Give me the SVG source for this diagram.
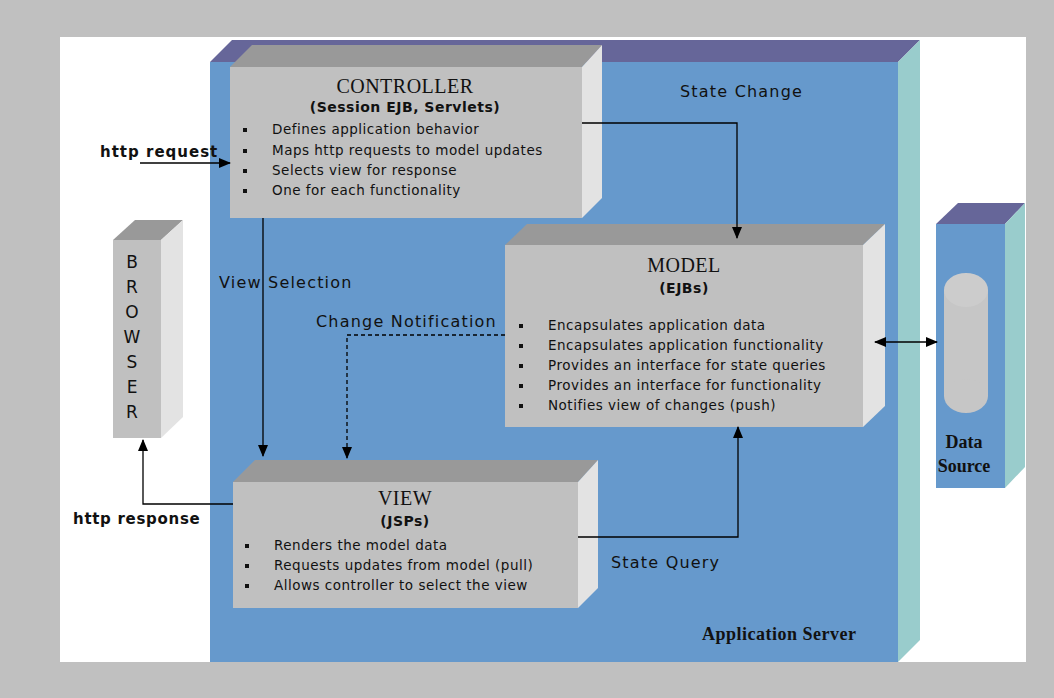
<svg xmlns="http://www.w3.org/2000/svg" width="1054" height="698" viewBox="0 0 1054 698">
<defs>
<style>
.front{fill:#c0c0c0}
.top{fill:#999999}
.side{fill:#e3e3e3}
.title{font-family:"Liberation Serif",serif;font-size:20px;letter-spacing:0.5px;fill:#111;text-anchor:middle}
.sub{font-family:"DejaVu Sans",sans-serif;font-weight:bold;font-size:14px;letter-spacing:0.5px;fill:#111;text-anchor:middle}
.item{font-family:"DejaVu Sans",sans-serif;font-size:13.5px;letter-spacing:0.5px;fill:#111}
.lbl{font-family:"DejaVu Sans",sans-serif;font-size:16px;letter-spacing:1.2px;fill:#111}
.blbl{font-family:"DejaVu Sans",sans-serif;font-weight:bold;font-size:15px;fill:#111}
.ser{font-family:"Liberation Serif",serif;font-weight:bold;font-size:18px;fill:#111}
.conn{fill:none;stroke:#000;stroke-width:1.3}
</style>
<marker id="ah" markerWidth="12" markerHeight="10" refX="11" refY="5" orient="auto" markerUnits="userSpaceOnUse">
<path d="M0,0 L12,5 L0,10 Z" fill="#000"/>
</marker>
<marker id="ahs" markerWidth="12" markerHeight="10" refX="1" refY="5" orient="auto" markerUnits="userSpaceOnUse">
<path d="M12,0 L0,5 L12,10 Z" fill="#000"/>
</marker>
</defs>
<rect x="0" y="0" width="1054" height="698" fill="#c0c0c0"/>
<rect x="60" y="37" width="966" height="625" fill="#ffffff"/>

<g id="appserver">
<polygon points="210,62 232,40 920,40 898,62" fill="#666699"/>
<polygon points="898,62 920,40 920,640 898,662" fill="#99cccc"/>
<rect x="210" y="62" width="688" height="600" fill="#6699cc"/>
<text class="ser" x="702" y="640" font-size="19" letter-spacing="0.5">Application Server</text>
</g>

<g id="datasource">
<polygon points="936,224 958,203 1025,203 1005,224" fill="#666699"/>
<polygon points="1005,224 1025,203 1025,467 1005,488" fill="#99cccc"/>
<rect x="936" y="224" width="69" height="264" fill="#6699cc"/>
<rect x="944" y="290" width="44" height="106" fill="#c6c6c6"/>
<ellipse cx="966" cy="396" rx="22" ry="17" fill="#c6c6c6"/>
<ellipse cx="966" cy="290" rx="22" ry="17" fill="#cccccc"/>
<text class="ser" x="964" y="448" text-anchor="middle">Data</text>
<text class="ser" x="964" y="472" text-anchor="middle">Source</text>
</g>

<g id="browser">
<polygon points="113,240 135,220 183,220 161,240" class="top"/>
<polygon points="161,240 183,220 183,417 161,438" class="side"/>
<rect x="113" y="240" width="48" height="198" class="front"/>
<g font-family="DejaVu Sans, sans-serif" font-size="17" fill="#111" text-anchor="middle">
<text x="132" y="268">B</text>
<text x="132" y="293">R</text>
<text x="132" y="318">O</text>
<text x="132" y="343">W</text>
<text x="132" y="368">S</text>
<text x="132" y="393">E</text>
<text x="132" y="418">R</text>
</g>
</g>

<g id="controller">
<polygon points="230,67 252,45 602,45 582,67" class="top"/>
<polygon points="582,67 602,45 602,198 582,218" class="side"/>
<rect x="230" y="67" width="352" height="151" class="front"/>
<text class="title" x="405" y="93">CONTROLLER</text>
<text class="sub" x="405" y="112">(Session EJB, Servlets)</text>
<g class="item">
<rect x="243" y="128" width="4" height="4"/><text x="272" y="134">Defines application behavior</text>
<rect x="243" y="149" width="4" height="4"/><text x="272" y="155">Maps http requests to model updates</text>
<rect x="243" y="169" width="4" height="4"/><text x="272" y="175">Selects view for response</text>
<rect x="243" y="189" width="4" height="4"/><text x="272" y="195">One for each functionality</text>
</g>
</g>

<g id="model">
<polygon points="505,245 527,224 885,224 863,245" class="top"/>
<polygon points="863,245 885,224 885,406 863,427" class="side"/>
<rect x="505" y="245" width="358" height="182" class="front"/>
<text class="title" x="684" y="272">MODEL</text>
<text class="sub" x="684" y="293">(EJBs)</text>
<g class="item">
<rect x="519" y="324" width="4" height="4"/><text x="548" y="330">Encapsulates application data</text>
<rect x="519" y="344" width="4" height="4"/><text x="548" y="350">Encapsulates application functionality</text>
<rect x="519" y="364" width="4" height="4"/><text x="548" y="370">Provides an interface for state queries</text>
<rect x="519" y="384" width="4" height="4"/><text x="548" y="390">Provides an interface for functionality</text>
<rect x="519" y="404" width="4" height="4"/><text x="548" y="410">Notifies view of changes (push)</text>
</g>
</g>

<g id="view">
<polygon points="233,482 255,460 598,460 578,482" class="top"/>
<polygon points="578,482 598,460 598,588 578,608" class="side"/>
<rect x="233" y="482" width="345" height="126" class="front"/>
<text class="title" x="405" y="505">VIEW</text>
<text class="sub" x="405" y="526">(JSPs)</text>
<g class="item">
<rect x="245" y="544" width="4" height="4"/><text x="274" y="550">Renders the model data</text>
<rect x="245" y="564" width="4" height="4"/><text x="274" y="570">Requests updates from model (pull)</text>
<rect x="245" y="584" width="4" height="4"/><text x="274" y="590">Allows controller to select the view</text>
</g>
</g>

<g id="connectors">
<line class="conn" x1="140" y1="163" x2="230" y2="163" marker-end="url(#ah)"/>
<polyline class="conn" points="582,123 737,123 737,238" marker-end="url(#ah)"/>
<line class="conn" x1="263" y1="218" x2="263" y2="456" marker-end="url(#ah)"/>
<polyline class="conn" points="505,335 347,335 347,458" stroke-dasharray="4,3" marker-end="url(#ah)"/>
<polyline class="conn" points="578,537 738,537 738,427" marker-end="url(#ah)"/>
<polyline class="conn" points="233,504 143,504 143,440" marker-end="url(#ah)"/>
<line class="conn" x1="875" y1="342" x2="937" y2="342" marker-start="url(#ahs)" marker-end="url(#ah)"/>
<text class="blbl" x="100" y="157" letter-spacing="1">http request</text>
<text class="lbl" x="680" y="97">State Change</text>
<text class="lbl" x="219" y="288">View Selection</text>
<text class="lbl" x="316" y="327">Change Notification</text>
<text class="lbl" x="611" y="568">State Query</text>
<text class="blbl" x="73" y="524" letter-spacing="0.7">http response</text>
</g>
</svg>
